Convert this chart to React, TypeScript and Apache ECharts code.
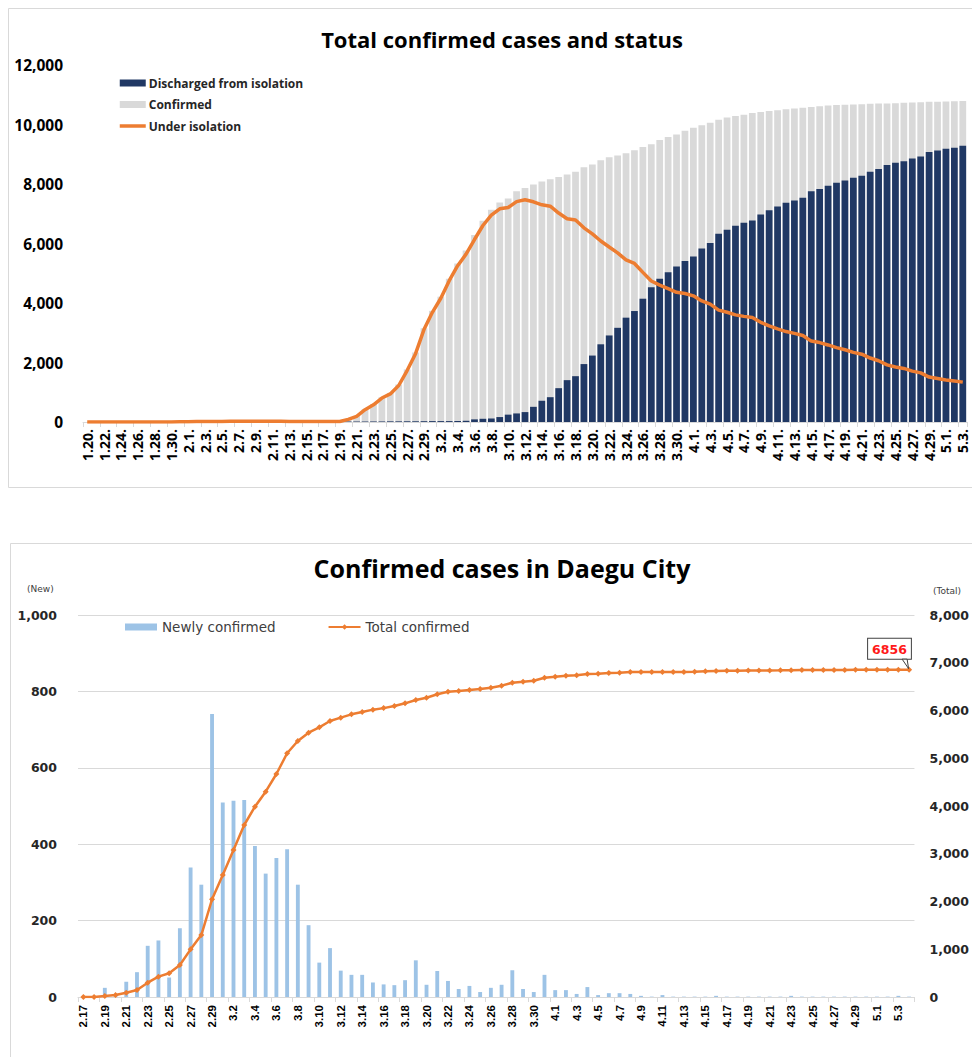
import React, { useEffect, useRef } from 'react';
import * as echarts from 'echarts';

// ---------- Top chart: Total confirmed cases and status ----------
const topDates = [
  '1.20.', '1.21.', '1.22.', '1.23.', '1.24.', '1.25.', '1.26.', '1.27.', '1.28.', '1.29.', '1.30.', '1.31.',
  '2.1.', '2.2.', '2.3.', '2.4.', '2.5.', '2.6.', '2.7.', '2.8.', '2.9.', '2.10.', '2.11.', '2.12.', '2.13.', '2.14.', '2.15.',
  '2.16.', '2.17.', '2.18.', '2.19.', '2.20.', '2.21.', '2.22.', '2.23.', '2.24.', '2.25.', '2.26.', '2.27.', '2.28.', '2.29.',
  '3.1.', '3.2.', '3.3.', '3.4.', '3.5.', '3.6.', '3.7.', '3.8.', '3.9.', '3.10.', '3.11.', '3.12.', '3.13.', '3.14.', '3.15.',
  '3.16.', '3.17.', '3.18.', '3.19.', '3.20.', '3.21.', '3.22.', '3.23.', '3.24.', '3.25.', '3.26.', '3.27.', '3.28.', '3.29.',
  '3.30.', '3.31.',
  '4.1.', '4.2.', '4.3.', '4.4.', '4.5.', '4.6.', '4.7.', '4.8.', '4.9.', '4.10.', '4.11.', '4.12.', '4.13.', '4.14.', '4.15.',
  '4.16.', '4.17.', '4.18.', '4.19.', '4.20.', '4.21.', '4.22.', '4.23.', '4.24.', '4.25.', '4.26.', '4.27.', '4.28.', '4.29.',
  '4.30.',
  '5.1.', '5.2.', '5.3.',
];

const confirmed = [
  1, 1, 1, 1, 2, 2, 3, 4, 4, 4, 4, 11,
  12, 15, 15, 16, 16, 23, 24, 24, 25, 27, 28, 28, 28, 28, 28, 29, 30, 31, 31, 104, 204, 433, 602, 833, 977, 1261, 1766, 2337, 3150,
  3736, 4212, 4812, 5328, 5766, 6284, 6767, 7134, 7382, 7513, 7755, 7869, 7979, 8086, 8162, 8236, 8320, 8413, 8565, 8652,
  8799, 8897, 8961, 9037, 9137, 9241, 9332, 9478, 9583, 9661, 9786,
  9887, 9976, 10062, 10156, 10237, 10284, 10331, 10384, 10423, 10450, 10480, 10512, 10537, 10564, 10591, 10613, 10635,
  10653, 10661, 10674, 10683, 10694, 10702, 10708, 10718, 10728, 10738, 10752, 10761, 10765,
  10774, 10780, 10793,
];

const discharged = [
  0, 0, 0, 0, 0, 0, 0, 0, 0, 0, 0, 0,
  0, 0, 0, 0, 1, 1, 1, 1, 3, 3, 3, 4, 7, 7, 9, 9, 10, 12, 12, 16, 16, 16, 18, 18, 22, 22, 24, 24, 27,
  30, 30, 30, 34, 41, 88, 108, 118, 166, 247, 288, 333, 510, 714, 834, 1137, 1407, 1540, 1947, 2233,
  2612, 2909, 3166, 3507, 3730, 4144, 4528, 4811, 5033, 5228, 5408,
  5567, 5828, 6021, 6325, 6463, 6598, 6694, 6776, 6973, 7117, 7243, 7368, 7447, 7534, 7757, 7829, 7937,
  8042, 8114, 8213, 8277, 8411, 8501, 8635, 8717, 8764, 8854, 8922, 9072, 9123,
  9183, 9217, 9283,
];

const underIsolation = [
  1, 1, 1, 1, 2, 2, 3, 4, 4, 4, 4, 11,
  12, 15, 15, 16, 15, 22, 23, 23, 22, 24, 25, 24, 21, 21, 19, 20, 20, 19, 19, 87, 187, 415, 579, 805, 945, 1227, 1730, 2296, 3106,
  3688, 4159, 4750, 5255, 5643, 6134, 6605, 6954, 7165, 7212, 7407, 7470, 7402, 7300, 7253, 7024, 6832, 6789, 6527, 6325,
  6085, 5884, 5684, 5450, 5330, 5030, 4740, 4600, 4480, 4360, 4320,
  4240, 4070, 3960, 3760, 3690, 3600, 3550, 3510, 3350, 3230, 3130, 3040, 2980, 2910, 2720, 2670, 2590,
  2500, 2430, 2340, 2280, 2150, 2060, 1920, 1850, 1800, 1710, 1650, 1510, 1460,
  1410, 1380, 1340,
];

// ---------- Bottom chart: Confirmed cases in Daegu City ----------
const daeguDates = [
  '2.17', '2.18', '2.19', '2.20', '2.21', '2.22', '2.23', '2.24', '2.25', '2.26', '2.27', '2.28', '2.29',
  '3.1', '3.2', '3.3', '3.4', '3.5', '3.6', '3.7', '3.8', '3.9', '3.10', '3.11', '3.12', '3.13', '3.14', '3.15', '3.16',
  '3.17', '3.18', '3.19', '3.20', '3.21', '3.22', '3.23', '3.24', '3.25', '3.26', '3.27', '3.28', '3.29', '3.30', '3.31',
  '4.1', '4.2', '4.3', '4.4', '4.5', '4.6', '4.7', '4.8', '4.9', '4.10', '4.11', '4.12', '4.13', '4.14', '4.15', '4.16',
  '4.17', '4.18', '4.19', '4.20', '4.21', '4.22', '4.23', '4.24', '4.25', '4.26', '4.27', '4.28', '4.29', '4.30',
  '5.1', '5.2', '5.3', '5.4',
];

const newlyConfirmed = [
  0, 1, 24, 2, 40, 65, 134, 148, 51, 180, 339, 294, 741,
  509, 514, 516, 395, 323, 364, 387, 294, 188, 90, 128, 69, 58, 58, 38, 33, 31, 44, 96, 32,
  68, 42, 21, 29, 13, 24, 32, 70, 21, 13, 58,
  18, 18, 8, 26, 5, 10, 10, 8, 3, 1, 5, 1, 1, 1, 1, 3, 1, 1, 1, 1, 1, 1, 3, 1, 1, 1, 1, 1, 1, 1,
  1, 1, 3, 1,
];

const totalConfirmed = [
  0, 0, 20, 42, 90, 147, 300, 426, 496, 670, 998, 1298, 2046,
  2555, 3079, 3602, 3986, 4300, 4670, 5104, 5361, 5535, 5648, 5780, 5850, 5920, 5969, 6018, 6050, 6094, 6150, 6220, 6268,
  6339, 6394, 6408, 6429, 6450, 6478, 6520, 6582, 6603, 6624, 6687,
  6708, 6729, 6737, 6764, 6771, 6785, 6792, 6806, 6806, 6807, 6807, 6807, 6807, 6813, 6820, 6827, 6832, 6834, 6836, 6838,
  6840, 6842, 6845, 6846, 6847, 6848, 6849, 6850, 6851, 6852,
  6853, 6854, 6855, 6856,
];

const NAVY = '#203864';
const GREY = '#D9D9D9';
const ORANGE = '#ED7D31';
const LIGHTBLUE = '#9DC3E6';
const OPEN = "'Open Sans', 'DejaVu Sans', sans-serif";
const DEJAVU = "'DejaVu Sans', sans-serif";
const NARROW = "'Liberation Sans Narrow', 'Liberation Sans', Arial, sans-serif";

export default function App() {
  const ref = useRef<HTMLDivElement>(null);

  useEffect(() => {
    if (!ref.current) return;
    const chart = echarts.init(ref.current, null, { renderer: 'svg' });
    const fmt = (v: number) => Number(v).toLocaleString('en-US');
    const last = totalConfirmed.length - 1;

    const baseGraphics: any[] = [
      {
        id: 'border1', type: 'rect', silent: true, z: -10,
        shape: { x: 8.5, y: 8.5, width: 1000, height: 479 },
        style: { fill: 'none', stroke: '#D9D9D9', lineWidth: 1 },
      },
      {
        id: 'border2', type: 'rect', silent: true, z: -10,
        shape: { x: 10.5, y: 543.5, width: 1000, height: 600 },
        style: { fill: 'none', stroke: '#D9D9D9', lineWidth: 1 },
      },
      {
        id: 'newName', type: 'text', left: 27, top: 584, silent: true,
        style: { text: '(New)', fontSize: 9, fill: '#404040', fontFamily: DEJAVU },
      },
      {
        id: 'totalName', type: 'text', left: 933, top: 586, silent: true,
        style: { text: '(Total)', fontSize: 9, fill: '#404040', fontFamily: DEJAVU },
      },
    ];

    const option: any = {
      animation: false,
      backgroundColor: '#fff',
      title: [
        {
          text: 'Total confirmed cases and status',
          left: 497, textAlign: 'center', top: 23,
          textStyle: { fontSize: 22, fontWeight: 'bold', fontFamily: OPEN, color: '#000' },
        },
        {
          text: 'Confirmed cases in Daegu City',
          left: 497, textAlign: 'center', top: 550,
          textStyle: { fontSize: 25, fontWeight: 'bold', fontFamily: OPEN, color: '#000' },
        },
      ],
      legend: [
        {
          orient: 'vertical', left: 113, top: 72, itemWidth: 26, itemHeight: 7, itemGap: 9.5,
          data: [
            { name: 'Discharged from isolation', icon: 'rect' },
            { name: 'Confirmed', icon: 'rect' },
            {
              name: 'Under isolation',
              itemStyle: { color: 'rgba(0,0,0,0)', borderWidth: 0, opacity: 0 },
              lineStyle: { width: 3.5, color: ORANGE },
            },
          ],
          textStyle: { fontSize: 12, fontWeight: 'bold', fontFamily: OPEN, color: '#262626', padding: [0, 0, 0, -2] },
        },
        {
          orient: 'horizontal', left: 120, top: 615, itemWidth: 32, itemHeight: 7, itemGap: 52,
          data: [
            { name: 'Newly confirmed', icon: 'rect' },
            { name: 'Total confirmed' },
          ],
          textStyle: { fontSize: 13.5, fontFamily: DEJAVU, color: '#404040' },
        },
      ],
      grid: [
        { left: 83, top: 65, width: 884, height: 357 },
        { left: 78, top: 615, width: 842, height: 382 },
      ],
      xAxis: [
        {
          type: 'category', gridIndex: 0, data: topDates,
          axisLine: { lineStyle: { color: '#D9D9D9' } },
          axisTick: { show: true, length: 5, lineStyle: { color: '#D9D9D9' } },
          axisLabel: {
            interval: 1, rotate: 90, margin: 7,
            fontSize: 14, fontWeight: 'bold', fontFamily: OPEN, color: '#000',
          },
        },
        {
          type: 'category', gridIndex: 1, data: daeguDates,
          axisLine: { lineStyle: { color: '#D9D9D9' } },
          axisTick: { show: true, length: 5, lineStyle: { color: '#D9D9D9' } },
          axisLabel: {
            interval: 1, rotate: 90, margin: 8,
            fontSize: 11.5, fontWeight: 'bold', fontFamily: NARROW, color: '#000',
          },
        },
      ],
      yAxis: [
        {
          type: 'value', gridIndex: 0, min: 0, max: 12000, interval: 2000,
          splitLine: { show: false },
          axisLine: { show: false }, axisTick: { show: false },
          axisLabel: {
            margin: 20, formatter: fmt,
            fontSize: 15.5, fontWeight: 'bold', fontFamily: OPEN, color: '#000',
          },
        },
        {
          type: 'value', gridIndex: 1, min: 0, max: 1000, interval: 200,
          splitLine: { show: true, lineStyle: { color: '#D9D9D9' } },
          axisLine: { show: false }, axisTick: { show: false },
          axisLabel: {
            margin: 21, formatter: fmt,
            fontSize: 12.5, fontWeight: 'bold', fontFamily: DEJAVU, color: '#262626',
          },
        },
        {
          type: 'value', gridIndex: 1, position: 'right', min: 0, max: 8000, interval: 1000,
          splitLine: { show: false },
          axisLine: { show: false }, axisTick: { show: false },
          axisLabel: {
            margin: 15, formatter: fmt,
            fontSize: 12.5, fontWeight: 'bold', fontFamily: DEJAVU, color: '#262626',
          },
        },
      ],
      series: [
        {
          name: 'Confirmed', type: 'bar', xAxisIndex: 0, yAxisIndex: 0,
          data: confirmed, barWidth: '80%', barGap: '-100%',
          itemStyle: { color: GREY },
        },
        {
          name: 'Discharged from isolation', type: 'bar', xAxisIndex: 0, yAxisIndex: 0,
          data: discharged, barWidth: '80%', barGap: '-100%',
          itemStyle: { color: NAVY },
        },
        {
          name: 'Under isolation', type: 'line', xAxisIndex: 0, yAxisIndex: 0,
          data: underIsolation, symbol: 'none',
          lineStyle: { color: ORANGE, width: 3.5 }, itemStyle: { color: ORANGE },
          z: 5,
        },
        {
          name: 'Newly confirmed', type: 'bar', xAxisIndex: 1, yAxisIndex: 1,
          data: newlyConfirmed, barWidth: '36%',
          itemStyle: { color: LIGHTBLUE },
        },
        {
          name: 'Total confirmed', type: 'line', xAxisIndex: 1, yAxisIndex: 2,
          symbol: 'diamond', symbolSize: 6,
          lineStyle: { color: ORANGE, width: 2.5 }, itemStyle: { color: ORANGE },
          z: 5,
          data: totalConfirmed.map((v, i) =>
            i === last
              ? {
                  value: v,
                  label: {
                    show: true, formatter: '{c}', position: [-38, -28],
                    color: '#FF1A1A', fontSize: 12.5, fontWeight: 'bold', fontFamily: DEJAVU,
                    backgroundColor: '#fff', borderColor: '#404040', borderWidth: 1, padding: [4, 4, 3, 4],
                  },
                }
              : v
          ),
        },
      ],
      graphic: { elements: baseGraphics },
    };

    chart.setOption(option);

    const p = chart.convertToPixel({ xAxisIndex: 1, yAxisIndex: 2 }, [last, totalConfirmed[last]]) as number[];
    if (p && isFinite(p[0]) && isFinite(p[1])) {
      chart.setOption({
        graphic: {
          elements: [
            ...baseGraphics,
            {
              id: 'tail', type: 'polygon', silent: true, z: 100,
              shape: { points: [[p[0] - 7, p[1] - 10.5], [p[0] - 0.5, p[1] - 1], [p[0] - 2, p[1] - 10.5]] },
              style: { fill: '#fff', stroke: '#404040', lineWidth: 1 },
            },
          ],
        },
      });
    }

    return () => chart.dispose();
  }, []);

  return (
    <div
      ref={ref}
      style={{ position: 'absolute', left: 0, top: 0, width: 972, height: 1057, background: '#fff' }}
    />
  );
}
